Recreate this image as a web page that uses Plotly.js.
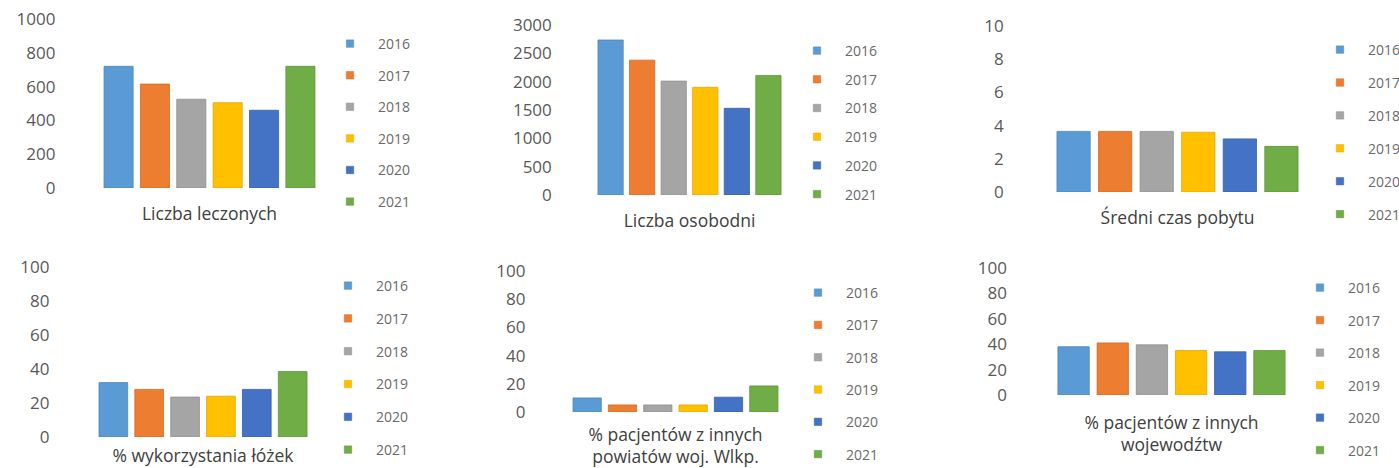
<!DOCTYPE html>
<html>
<head>
<meta charset="utf-8">
<script src="https://cdn.plot.ly/plotly-3.0.1.min.js"></script>
<style>html,body{margin:0;padding:0;background:#fff;}#chart{width:1399px;height:468px;}</style>
</head>
<body>
<div id="chart"></div>
<script>
// ---- data ----
const years = ['2016', '2017', '2018', '2019', '2020', '2021'];
const categories = [
  'Liczba leczonych',
  'Liczba osobodni',
  'Średni czas pobytu',
  '% wykorzystania łóżek',
  '% pacjentów z innych<br>powiatów woj. Wlkp.',
  '% pacjentów z innych<br>wojewodźtw'
];
const liczbaLeczonych = [720, 615, 525, 505, 460, 720];
const liczbaOsobodni = [2735, 2380, 2010, 1900, 1530, 2110];
const sredniCzasPobytu = [3.65, 3.65, 3.65, 3.6, 3.2, 2.75];
const wykorzystanieLozek = [32, 28, 23.5, 24, 28, 38.5];
const pacjenciPowiaty = [10, 5, 5, 5, 10.5, 18.5];
const pacjenciWojewodztwa = [38, 41, 39.5, 35, 34, 35];
const yTickLabels = [
  ['0', '200', '400', '600', '800', '1000'],
  ['0', '500', '1000', '1500', '2000', '2500', '3000'],
  ['0', '2', '4', '6', '8', '10'],
  ['0', '20', '40', '60', '80', '100'],
  ['0', '20', '40', '60', '80', '100'],
  ['0', '20', '40', '60', '80', '100']
];
const panelValues = [liczbaLeczonych, liczbaOsobodni, sredniCzasPobytu,
                     wykorzystanieLozek, pacjenciPowiaty, pacjenciWojewodztwa];

// ---- styling ----
const colors = ['#5B9BD5', '#ED7D31', '#A5A5A5', '#FFC000', '#4472C4', '#70AD47'];
const edge = ['#4a87bf', '#d06a24', '#8f8f8f', '#e0a800', '#355fa8', '#5e9639'];
const W = 1399, H = 468;
const px = v => v / W;
const py = v => 1 - v / H;

// panel geometry in pixels
const panels = [
  {xd: [100.4, 318.6], yd: [19, 188], ystand: 44, xstand: 13, lx: 378, ly: 43, gap: 10.4},
  {xd: [594.8, 784.2], yd: [25, 195], ystand: 42, xstand: 13, lx: 845, ly: 50, gap: 7.5},
  {xd: [1052.8, 1302.2], yd: [26, 192], ystand: 48, xstand: 13, lx: 1368, ly: 49, gap: 11.7},
  {xd: [95.4, 310.6], yd: [267, 437], ystand: 45, xstand: 6, lx: 376, ly: 285, gap: 11.6},
  {xd: [569.5, 781.5], yd: [271, 412], ystand: 43, xstand: 10, lx: 846, ly: 292, gap: 11.1},
  {xd: [1054, 1289], yd: [268, 395], ystand: 46, xstand: 15, lx: 1348, ly: 287, gap: 11.3}
];

const traces = [];
const layout = {
  width: W, height: H,
  margin: {l: 0, r: 0, t: 0, b: 0, autoexpand: false},
  paper_bgcolor: '#ffffff', plot_bgcolor: 'rgba(0,0,0,0)',
  barmode: 'group', bargap: 0, bargroupgap: 0.2,
  font: {family: 'Open Sans, sans-serif', color: '#595959'},
  showlegend: true
};

panels.forEach((p, i) => {
  const n = i + 1;
  const xa = n === 1 ? 'x' : 'x' + n;
  const ya = n === 1 ? 'y' : 'y' + n;
  const lg = n === 1 ? 'legend' : 'legend' + n;
  years.forEach((yr, k) => {
    traces.push({
      type: 'bar', name: yr,
      x: [categories[i]], y: [panelValues[i][k]],
      xaxis: xa, yaxis: ya, legend: lg,
      legendgroup: 'p' + n + '_' + yr,
      marker: {color: colors[k], line: {color: edge[k], width: 0.8}},
      hovertemplate: yr + ': %{y}<extra></extra>'
    });
  });
  const ticks = yTickLabels[i].map(Number);
  layout[n === 1 ? 'xaxis' : 'xaxis' + n] = {
    domain: [px(p.xd[0]), px(p.xd[1])], anchor: ya,
    type: 'category', range: [-0.5, 0.5],
    showgrid: false, zeroline: false, showline: false, ticks: '',
    tickfont: {family: 'Open Sans, sans-serif', size: 17.5, color: '#404040'},
    ticklabelstandoff: p.xstand, automargin: false, fixedrange: true
  };
  layout[n === 1 ? 'yaxis' : 'yaxis' + n] = {
    domain: [py(p.yd[1]), py(p.yd[0])], anchor: xa,
    range: [0, ticks[ticks.length - 1]],
    tickmode: 'array', tickvals: ticks, ticktext: yTickLabels[i],
    showgrid: false, zeroline: false, showline: false, ticks: '',
    tickfont: {family: 'Open Sans, sans-serif', size: 17, color: '#595959'},
    ticklabelstandoff: p.ystand, automargin: false, fixedrange: true
  };
  layout[lg] = {
    x: px(p.lx - 40), y: py(p.ly - 15), xanchor: 'left', yanchor: 'top',
    orientation: 'v', bgcolor: 'rgba(0,0,0,0)', borderwidth: 0,
    tracegroupgap: p.gap, traceorder: 'grouped',
    font: {family: 'Open Sans, sans-serif', size: 14, color: '#6a6a6a'}
  };
});

Plotly.newPlot('chart', traces, layout, {displayModeBar: false, staticPlot: true}).then(gd => {
  // smaller legend swatches placed close to their labels, as in the reference
  gd.querySelectorAll('g.legendpoints path').forEach(p => {
    p.setAttribute('transform', 'translate(12,0) scale(0.62)');
  });
});
</script>
</body>
</html>
